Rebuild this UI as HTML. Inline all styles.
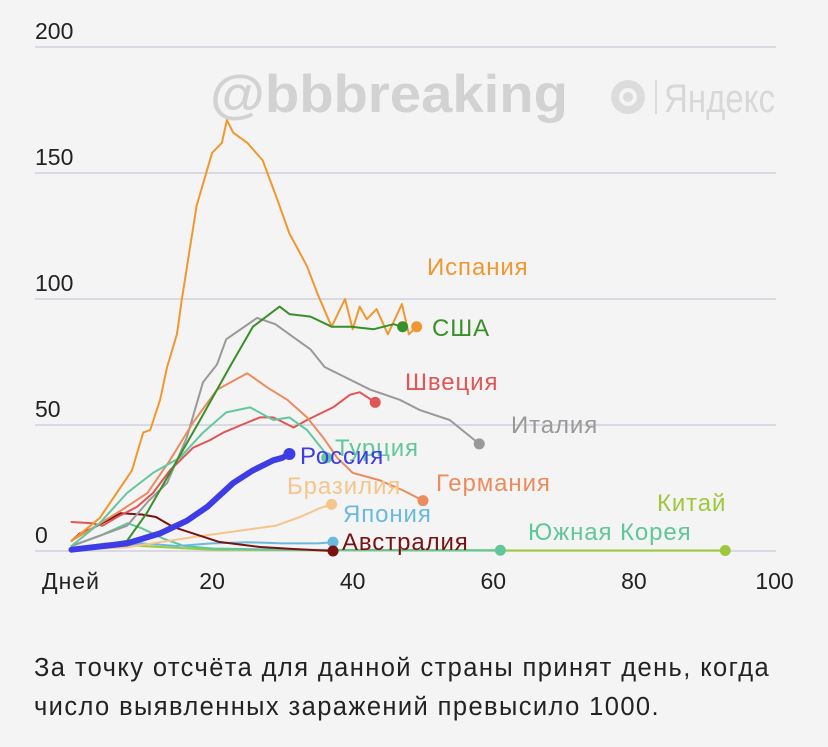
<!DOCTYPE html>
<html><head><meta charset="utf-8">
<style>
html,body{margin:0;padding:0;background:#f4f4f4;}
body{width:828px;height:747px;overflow:hidden;font-family:"Liberation Sans","DejaVu Sans",sans-serif;}
#note{position:absolute;left:34px;top:649px;font-size:25.5px;letter-spacing:1.4px;line-height:39px;color:#222;white-space:nowrap;}
</style></head>
<body>
<svg id="chart" width="828" height="640" style="position:absolute;left:0;top:0">
  <text x="210" y="112" font-size="53" font-weight="bold" fill="#d2d2d2" font-family="Liberation Sans, sans-serif" textLength="358" lengthAdjust="spacingAndGlyphs">@bbbreaking</text>
  <g>
    <circle cx="628" cy="97" r="17" fill="#dcdcdc"/><circle cx="628" cy="97" r="9" fill="#f4f4f4"/><circle cx="628" cy="97" r="5" fill="#dcdcdc"/>
    <rect x="655" y="80" width="2" height="34" fill="#dcdcdc"/>
    <text x="664" y="112" font-size="40" fill="#d8d8d8" font-family="Liberation Sans Narrow, Liberation Sans, sans-serif" textLength="111" lengthAdjust="spacingAndGlyphs">Яндекс</text>
  </g>
  <g id="grid"></g><g id="lines"></g><g id="labels"></g>
</svg>
<div id="note">За точку отсчёта для данной страны принят день, когда<br>число выявленных заражений превысило 1000.</div>
<script>
const yTicks=[0,50,100,150,200];
const xTicks=[20,40,60,80,100];
const spainD=[0,4,8.6,10.2,11.2,12.6,13.6,15,15.7,17.8,20,21.4,22.1,23,24,25,27.2,29.2,31,33.5,35,37,38.9,40,41,42,43.4,45,47,48,49.1];
const spainV=[4,13,32,47,48,60,73,86,100,137,158,162,171,166,164,162,155,140,126,113,102,89,100,88,97,92,96,86,98,86,89];
const usaD=[0,7.9,10.7,14,18.3,22.5,25.8,29.6,31,34,37,39.8,43,45.8,47.1];
const usaV=[0.5,4,15,31,52,73,89,97,94,93,89,89,88,90,89];
const italyD=[0,7.9,11,13.6,16.4,18.7,20.7,22,26.4,29,31.5,34,36,42.5,46.7,49.5,53.8,58];
const italyV=[2,10,20,27,45,67,74,84,92.5,90,85,80,73,64,60,56,52,42.5];
const swedenD=[0,3,4.4,6.5,9.3,11.6,14,17.3,19.7,21.6,25,26.8,28.7,31.6,33.5,37.2,39.6,41,43.2];
const swedenV=[11.5,11,10,13.5,17.5,23,32,41,44,47,51,53,53,49,52,57,62,63,59];
const germanyD=[0,7,10.8,14,17.3,20.7,25,27.8,30.7,33.5,35.8,37.8,40,43.9,47.2,50];
const germanyV=[4,16,23,36,51,64,70.5,65,60,53,45,37,31,28,24,20];
const turkeyD=[0,4,7.9,11.6,15.4,18.7,22,25.4,28.7,31,33.5,35.8,36.3];
const turkeyV=[2,11,23,31,37,47,55,57,52,53,48,40,37];
const russiaD=[0,7.9,12.6,16.4,19.3,23,25.8,28.7,30,31];
const russiaV=[0.5,3,7,12,17.5,27,32,36,37,38.5];
const brazilD=[0,7.9,17.3,25,29,32.5,35.3,37];
const brazilV=[0.5,1.5,5.5,8.5,10,13.5,17,18.5];
const japanD=[0,5,10,15,20,25,30,35,37.2];
const japanV=[1,2,3,2,3,3.5,3,3,3.5];
const australiaD=[0,1.2,3,7,10,12,14.5,17.3,21,26.8,31.6,37.2];
const australiaV=[4,7,9,15,14.5,13.5,9.5,7,3.6,1.6,0.8,0];
const koreaD=[0,4,8,10,13,16,20,30,45,61];
const koreaV=[2,6,11,9,5,2,1,0.5,0.4,0.3];
const chinaD=[0,5,10,20,40,60,93];
const chinaV=[1,3,2,0.5,0.3,0.2,0.2];

const X=d=>71.5+d*7.03, Y=v=>551-v*2.52;
const ns="http://www.w3.org/2000/svg";
function mk(t,a,p){const e=document.createElementNS(ns,t);for(const k in a)e.setAttribute(k,a[k]);p.appendChild(e);return e;}
const grid=document.getElementById('grid');
yTicks.forEach(v=>{
  const l=mk('line',{x1:35,x2:776,y1:Y(v),y2:Y(v),stroke:'#cfd0dc','stroke-width':1.5},grid);
  
  
  const t=mk('text',{x:35,y:Y(v)-8,'font-size':23,fill:'#222'},grid);
  t.textContent=v;
  
  
});
const xl=mk('text',{x:71,y:589,'font-size':23,fill:'#222','text-anchor':'middle','letter-spacing':1},grid);
xl.textContent='Дней';


xTicks.forEach(d=>{
  const t=mk('text',{x:X(d),y:589,'font-size':23,fill:'#222','text-anchor':'middle'},grid);
  t.textContent=d;
  
  
});
const series=[
 ['china',chinaD,chinaV,'#9dc83c',2,'Китай',657,511],
 ['korea',koreaD,koreaV,'#5fc79a',2,'Южная Корея',528,540],
 ['japan',japanD,japanV,'#6ab9df',2,'Япония',343,522],
 ['brazil',brazilD,brazilV,'#f5c58c',2,'Бразилия',287,494],
 ['australia',australiaD,australiaV,'#7a1212',2,'Австралия',342,550],
 ['italy',italyD,italyV,'#999999',2,'Италия',511,433],
 ['sweden',swedenD,swedenV,'#e05555',2,'Швеция',405,390],
 ['germany',germanyD,germanyV,'#eb8c5e',2,'Германия',436,491],
 ['turkey',turkeyD,turkeyV,'#63c79d',2,'Турция',335,456],
 ['spain',spainD,spainV,'#f0982f',2,'Испания',427,275],
 ['usa',usaD,usaV,'#38902a',2,'США',432,336],
 ['russia',russiaD,russiaV,'#3d3ce6',6,'Россия',300,464]
];
const lines=document.getElementById('lines'),labels=document.getElementById('labels');
series.forEach(([n,D,V,c,w,lab,lx,ly])=>{
  const pts=D.map((d,i)=>X(d).toFixed(1)+','+Y(V[i]).toFixed(1)).join(' ');
  const p=mk('polyline',{points:pts,fill:'none',stroke:c,'stroke-width':w,'stroke-linejoin':'round','stroke-linecap':'round'},lines);
  
  
  const k=D.length-1;
  const dot=mk('circle',{cx:X(D[k]),cy:Y(V[k]),r:n==='russia'?6:5.5,fill:c},lines);
  
  
  const t=mk('text',{x:lx,y:ly,'font-size':24,'letter-spacing':0.9,fill:c},labels);
  t.textContent=lab;
  
  
});
</script>
</body></html>
